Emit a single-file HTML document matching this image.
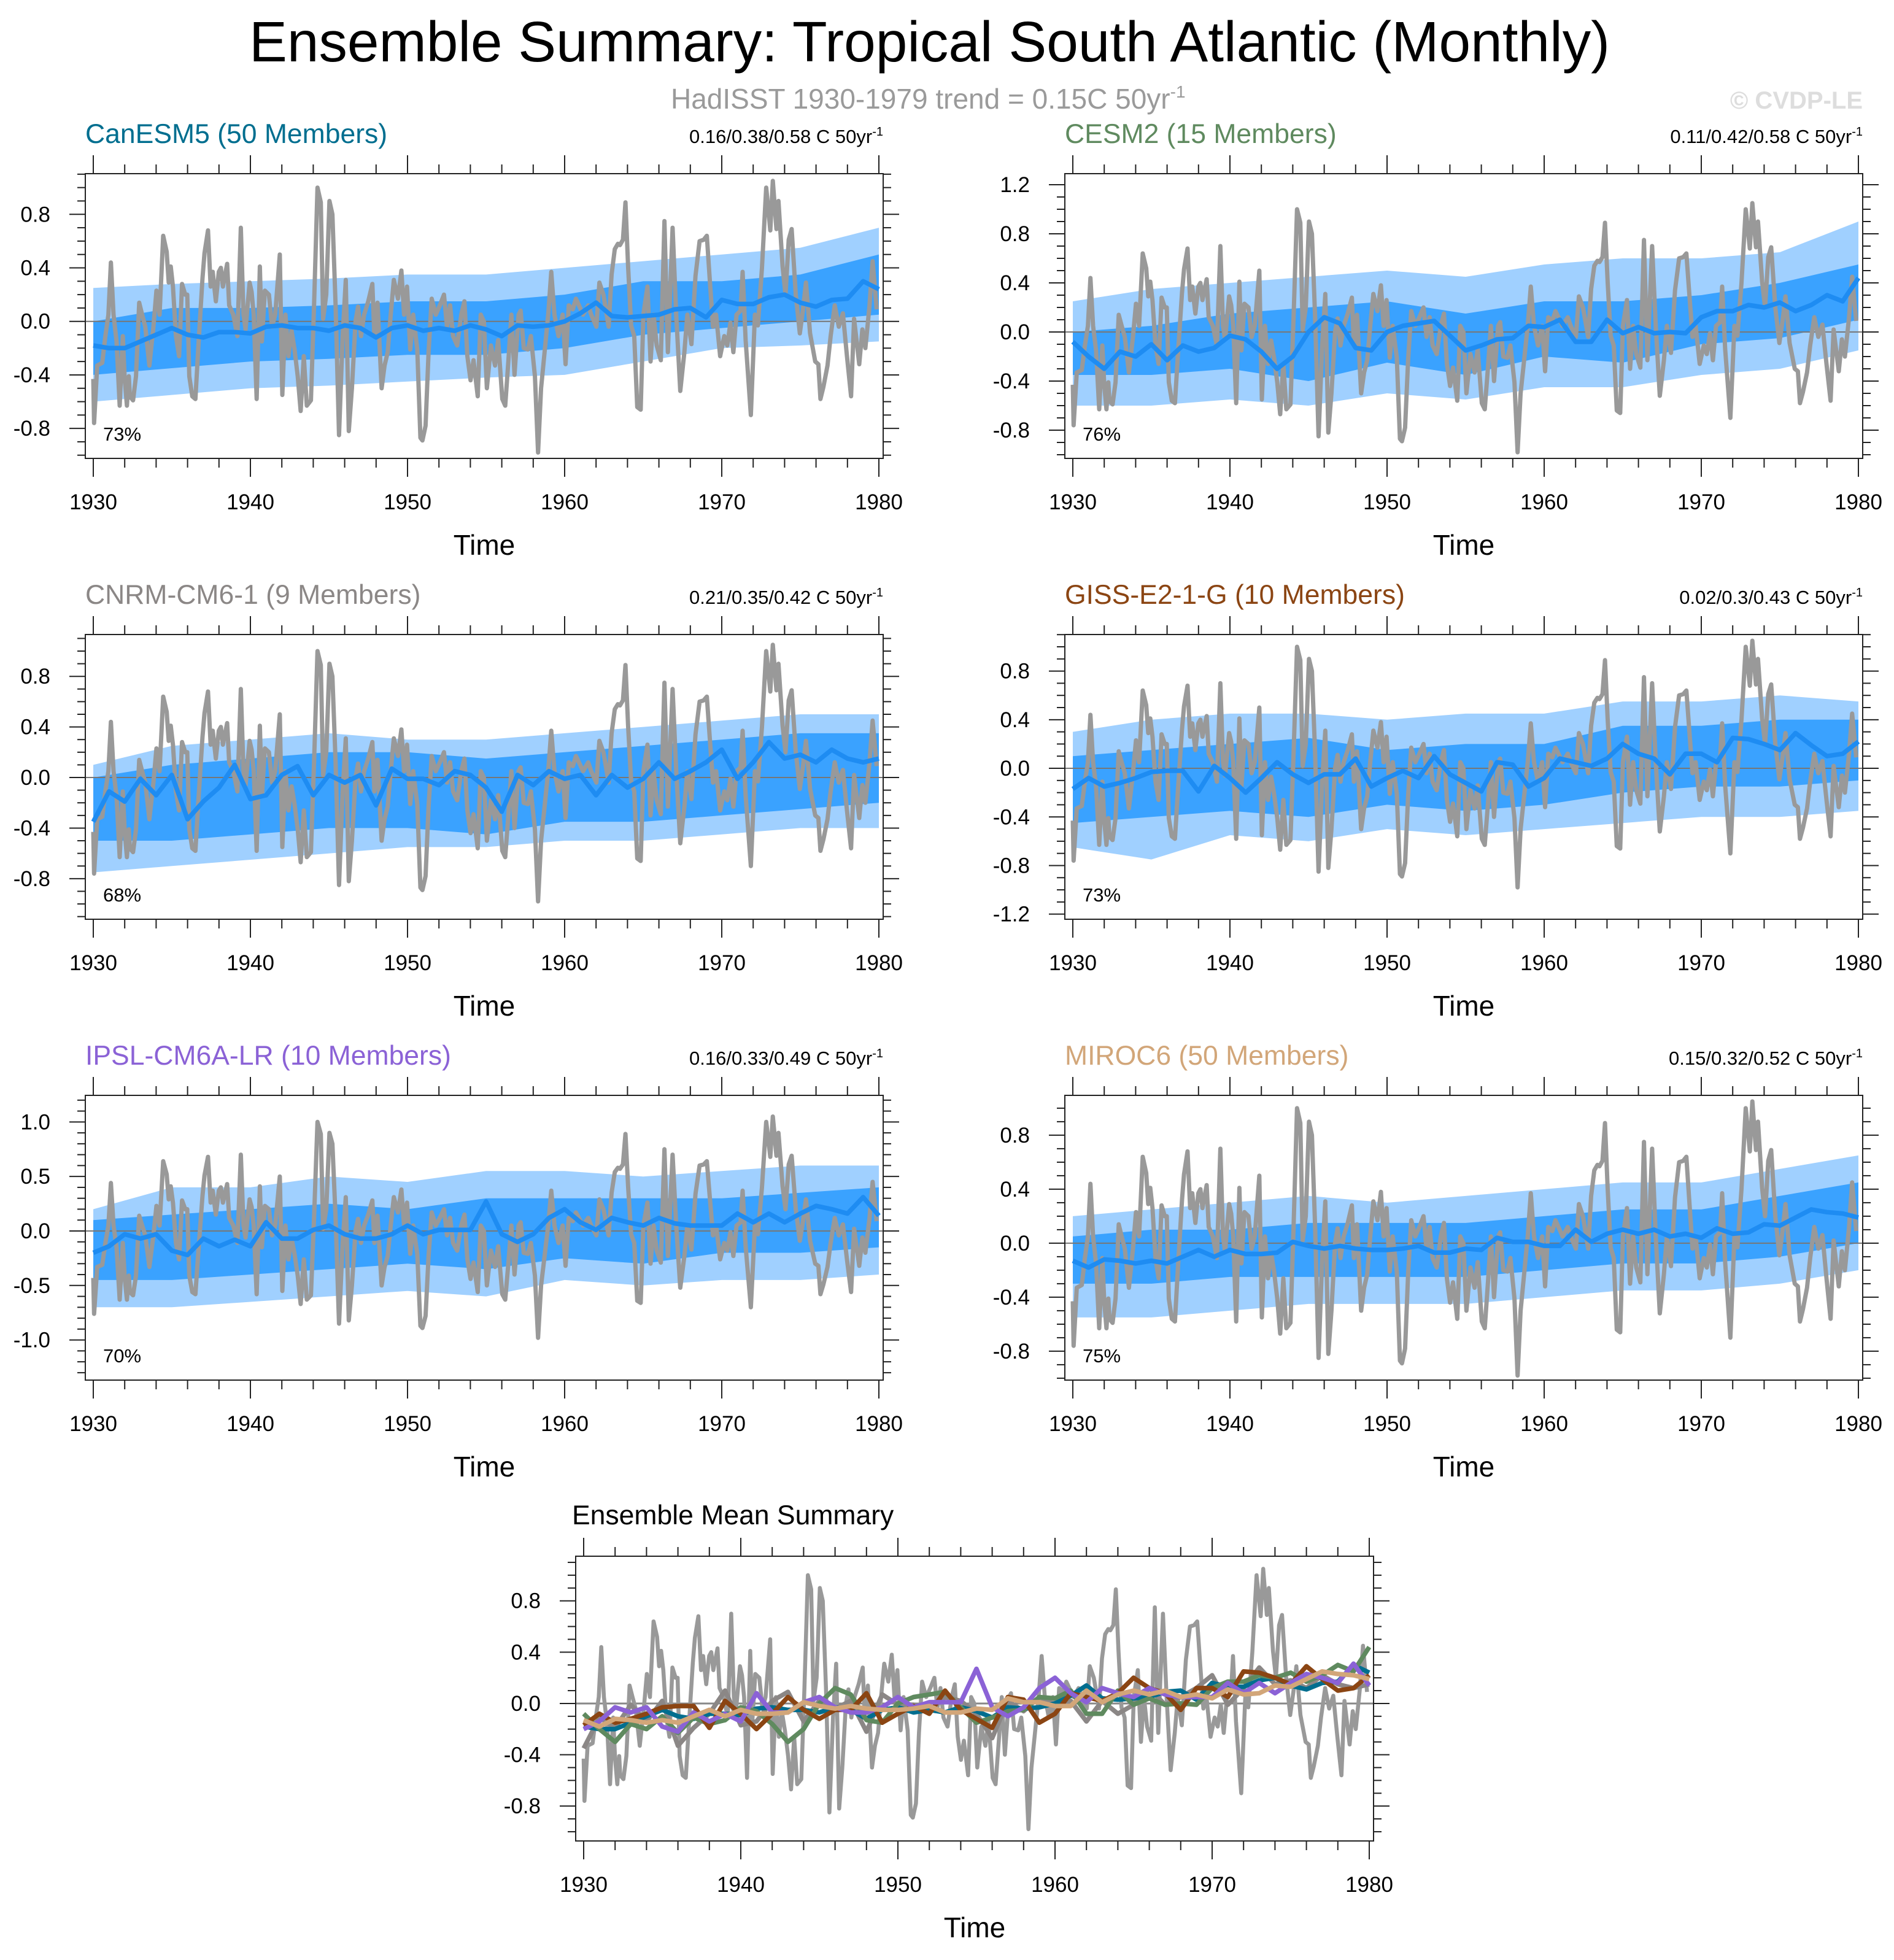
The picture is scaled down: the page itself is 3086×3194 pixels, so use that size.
<!DOCTYPE html>
<html><head><meta charset="utf-8"><title>Ensemble Summary</title>
<style>
html,body{margin:0;padding:0;background:#fff;}
svg{display:block;font-family:"Liberation Sans",Arial,sans-serif;}
</style></head>
<body>
<svg id="chart" width="3086" height="3194" viewBox="0 0 3086 3194" xmlns="http://www.w3.org/2000/svg">
<rect x="0" y="0" width="3086" height="3194" fill="#fff"/>
<text x="406" y="100" font-size="93" textLength="2217" lengthAdjust="spacingAndGlyphs" fill="#000">Ensemble Summary: Tropical South Atlantic (Monthly)</text>
<text x="1093" y="177" font-size="46" fill="#9a9a9a">HadISST 1930-1979 trend = 0.15C 50yr<tspan dy="-18" font-size="28">-1</tspan></text>
<text x="3035" y="177" font-size="40" font-weight="bold" text-anchor="end" fill="#dddddd">© CVDP-LE</text>
<g id="panels"></g>
</svg>
<script>
// ---------------- data ----------------
const years = [];
for (let y = 1930; y <= 1980; y++) years.push(y);
const bandYears = [1930,1935,1940,1945,1950,1955,1960,1965,1970,1975,1980];

const obsYears = [1930.0,1930.05,1930.25,1930.57,1930.77,1930.96,1931.12,1931.29,1931.48,1931.68,1931.88,1932.0,1932.14,1932.26,1932.33,1932.53,1932.72,1932.92,1933.11,1933.31,1933.57,1933.83,1934.02,1934.22,1934.45,1934.67,1934.8,1934.93,1935.07,1935.26,1935.46,1935.65,1935.85,1935.98,1936.11,1936.3,1936.5,1936.69,1936.95,1937.08,1937.3,1937.47,1937.6,1937.8,1937.99,1938.12,1938.25,1938.52,1938.65,1938.91,1939.17,1939.39,1939.56,1939.69,1939.95,1940.08,1940.21,1940.4,1940.6,1940.73,1940.92,1941.18,1941.38,1941.58,1941.87,1942.03,1942.23,1942.42,1942.62,1942.81,1943.01,1943.2,1943.4,1943.59,1943.85,1944.05,1944.27,1944.48,1944.63,1944.83,1945.03,1945.22,1945.42,1945.64,1945.87,1946.07,1946.26,1946.46,1946.69,
1946.85,1947.04,1947.24,1947.5,1947.76,1947.89,1948.09,1948.35,1948.54,1948.74,1948.93,1949.13,1949.39,1949.61,1949.78,1949.97,1950.17,1950.36,1950.62,1950.82,1950.95,1951.15,1951.34,1951.54,1951.8,1952.06,1952.32,1952.51,1952.71,1952.9,1953.16,1953.42,1953.62,1953.81,1954.01,1954.2,1954.47,1954.66,1954.86,1955.05,1955.31,1955.57,1955.77,1956.03,1956.22,1956.42,1956.61,1956.81,1957.07,1957.2,1957.4,1957.66,1957.85,1958.11,1958.31,1958.5,1958.7,1958.96,1959.15,1959.35,1959.61,1959.87,1960.06,1960.26,1960.52,1960.72,1960.91,1961.17,1961.5,1961.69,1962.02,1962.21,1962.47,1962.8,1962.99,1963.19,1963.39,
1963.52,1963.71,1963.87,1964.04,1964.23,1964.43,1964.62,1964.84,1965.01,1965.27,1965.47,1965.66,1965.86,1966.12,1966.35,1966.57,1966.87,1967.1,1967.36,1967.62,1967.81,1968.07,1968.33,1968.59,1968.85,1969.05,1969.24,1969.44,1969.64,1969.9,1970.16,1970.35,1970.55,1970.74,1970.94,1971.2,1971.33,1971.52,1971.85,1972.11,1972.3,1972.56,1972.83,1973.09,1973.25,1973.48,1973.61,1973.87,1974.06,1974.26,1974.45,1974.71,1974.97,1975.17,1975.36,1975.62,1975.95,1976.15,1976.28,1976.47,1976.73,1976.93,1977.19,1977.45,1977.71,1977.97,1978.23,1978.42,1978.75,1978.95,1979.14,1979.4,1979.6,1979.86];
const obsVals = [-0.43,-0.76,-0.33,-0.31,-0.11,0.05,0.44,0.05,-0.15,-0.63,-0.11,-0.43,-0.63,-0.41,-0.56,-0.59,-0.41,0.14,0.05,-0.04,-0.33,-0.04,0.23,0.05,0.64,0.52,0.29,0.41,0.26,-0.11,-0.26,0.28,0.2,0.2,-0.41,-0.56,-0.58,-0.18,0.32,0.51,0.68,0.26,0.37,0.15,0.37,0.4,0.26,0.43,0.12,0.05,-0.11,0.7,0.05,-0.06,0.29,0.22,0.05,-0.58,0.41,-0.15,0.23,0.2,-0.04,0.05,0.5,-0.55,0.05,-0.26,-0.07,-0.21,-0.41,-0.67,-0.26,-0.63,-0.59,0.12,1.0,0.89,0.02,0.2,0.9,0.8,0.12,-0.85,-0.11,0.31,-0.82,-0.5,0.0,
0.11,-0.11,0.05,0.15,0.28,-0.11,0.14,-0.5,-0.33,-0.23,0.05,0.31,0.17,0.38,0.05,0.26,-0.21,0.05,-0.21,-0.87,-0.89,-0.78,-0.23,0.17,0.05,0.12,0.2,-0.04,0.12,-0.11,-0.18,0.05,0.15,-0.26,-0.44,-0.29,-0.56,0.05,0.0,-0.5,-0.18,-0.33,-0.14,-0.58,-0.63,-0.29,0.05,-0.4,0.05,0.08,-0.2,-0.21,-0.11,-0.41,-0.98,-0.5,-0.26,0.06,0.37,0.05,-0.11,0.05,-0.32,0.12,0.09,0.17,0.12,0.05,0.12,0.05,-0.04,0.29,0.2,-0.04,0.35,0.54,0.58,
0.57,0.61,0.89,0.41,-0.03,-0.11,-0.64,-0.66,0.05,0.26,-0.3,0.05,-0.18,-0.29,0.75,-0.23,0.7,0.05,-0.52,-0.23,0.05,-0.17,0.34,0.6,0.61,0.64,0.31,-0.04,0.05,-0.26,-0.11,-0.18,-0.01,-0.23,0.05,0.08,0.37,-0.14,-0.7,0.05,-0.03,0.4,1.0,0.68,1.05,0.69,0.9,0.41,0.2,0.61,0.69,0.2,-0.09,0.09,0.29,-0.09,-0.3,-0.32,-0.58,-0.49,-0.33,-0.11,0.12,-0.04,0.06,-0.26,-0.56,0.02,-0.32,-0.06,-0.2,0.11,0.45,0.09];

// CanESM5
const canMean = [-0.18,-0.2,-0.2,-0.15,-0.1,-0.05,-0.1,-0.12,-0.08,-0.08,-0.09,-0.04,-0.03,-0.05,-0.05,-0.07,-0.03,-0.05,-0.12,-0.05,-0.03,-0.07,-0.05,-0.07,-0.03,-0.06,-0.11,-0.03,-0.04,-0.03,0.0,0.06,0.14,0.04,0.03,0.04,0.05,0.09,0.1,0.03,0.16,0.13,0.13,0.18,0.2,0.14,0.11,0.16,0.17,0.3,0.24];
const canLightTop = [0.25,0.28,0.3,0.32,0.35,0.35,0.4,0.45,0.5,0.55,0.7];
const canLightBot = [-0.6,-0.55,-0.5,-0.48,-0.45,-0.42,-0.4,-0.3,-0.2,-0.18,-0.15];
const canDarkTop = [0.0,0.1,0.1,0.12,0.15,0.15,0.2,0.3,0.3,0.35,0.5];
const canDarkBot = [-0.4,-0.35,-0.3,-0.28,-0.25,-0.25,-0.2,-0.1,-0.05,0.0,0.05];
// CESM2
const cesmMean = [-0.08,-0.2,-0.3,-0.16,-0.2,-0.1,-0.23,-0.11,-0.16,-0.13,-0.03,-0.06,-0.16,-0.3,-0.2,0.0,0.12,0.07,-0.13,-0.15,0.0,0.05,0.07,0.09,-0.03,-0.15,-0.11,-0.06,-0.05,0.05,0.04,0.1,-0.08,-0.08,0.1,-0.01,0.04,-0.01,0.0,-0.01,0.12,0.17,0.17,0.22,0.2,0.24,0.17,0.22,0.3,0.25,0.44];
const cesmLightTop = [0.25,0.35,0.4,0.45,0.5,0.45,0.55,0.6,0.6,0.65,0.9];
const cesmLightBot = [-0.6,-0.6,-0.55,-0.6,-0.5,-0.55,-0.45,-0.45,-0.35,-0.3,-0.15];
const cesmDarkTop = [0.0,0.05,0.15,0.2,0.25,0.15,0.25,0.25,0.3,0.4,0.55];
const cesmDarkBot = [-0.35,-0.35,-0.3,-0.4,-0.25,-0.35,-0.2,-0.25,-0.1,-0.05,0.1];
// CNRM-CM6-1
const cnrmMean = [-0.35,-0.11,-0.19,-0.01,-0.14,0.02,-0.33,-0.19,-0.08,0.1,-0.17,-0.14,0.02,0.09,-0.14,0.02,-0.04,0.02,-0.22,0.07,-0.01,-0.01,-0.06,0.05,0.02,-0.08,-0.27,0.02,-0.06,0.05,-0.01,0.02,-0.14,0.02,-0.08,-0.01,0.12,-0.01,0.05,0.12,0.22,-0.01,0.12,0.28,0.15,0.18,0.12,0.22,0.15,0.12,0.15];
const cnrmLightTop = [0.1,0.25,0.3,0.35,0.3,0.3,0.35,0.4,0.45,0.5,0.5];
const cnrmLightBot = [-0.75,-0.7,-0.65,-0.6,-0.55,-0.55,-0.5,-0.5,-0.45,-0.4,-0.4];
const cnrmDarkTop = [0.0,0.1,0.15,0.2,0.2,0.15,0.2,0.25,0.3,0.35,0.35];
const cnrmDarkBot = [-0.5,-0.5,-0.45,-0.4,-0.4,-0.45,-0.35,-0.35,-0.3,-0.25,-0.2];
// GISS-E2-1-G
const gissMean = [-0.17,-0.08,-0.15,-0.12,-0.08,-0.03,-0.02,-0.02,-0.19,0.02,-0.08,-0.2,-0.08,0.05,-0.05,-0.12,-0.05,-0.05,0.08,-0.15,-0.08,-0.02,-0.08,0.1,-0.05,-0.12,-0.19,0.05,0.03,-0.15,-0.08,0.08,0.05,0.02,0.08,0.2,0.12,0.08,-0.05,0.12,0.12,0.05,0.25,0.24,0.2,0.15,0.29,0.19,0.1,0.12,0.22];
const gissLightTop = [0.3,0.4,0.45,0.45,0.4,0.45,0.45,0.55,0.55,0.6,0.55];
const gissLightBot = [-0.65,-0.75,-0.55,-0.6,-0.5,-0.55,-0.5,-0.45,-0.4,-0.4,-0.35];
const gissDarkTop = [0.1,0.15,0.2,0.25,0.15,0.2,0.2,0.35,0.35,0.4,0.4];
const gissDarkBot = [-0.45,-0.4,-0.35,-0.4,-0.3,-0.35,-0.3,-0.2,-0.15,-0.15,-0.1];
// IPSL-CM6A-LR
const ipslMean = [-0.2,-0.14,-0.03,-0.07,-0.03,-0.18,-0.22,-0.07,-0.14,-0.08,-0.14,0.08,-0.07,-0.07,0.01,0.05,-0.03,-0.07,-0.07,-0.03,0.05,-0.03,0.01,0.01,0.01,0.27,-0.03,-0.1,-0.03,0.12,0.2,0.08,0.01,0.12,0.08,0.05,0.12,0.07,0.05,0.05,0.05,0.16,0.08,0.16,0.08,0.16,0.23,0.2,0.16,0.31,0.14];
const ipslLightTop = [0.2,0.4,0.4,0.5,0.45,0.55,0.55,0.5,0.55,0.6,0.6];
const ipslLightBot = [-0.7,-0.7,-0.65,-0.6,-0.55,-0.6,-0.45,-0.5,-0.45,-0.45,-0.4];
const ipslDarkTop = [0.1,0.15,0.2,0.25,0.2,0.3,0.3,0.3,0.3,0.35,0.4];
const ipslDarkBot = [-0.45,-0.45,-0.4,-0.35,-0.3,-0.35,-0.25,-0.3,-0.2,-0.2,-0.15];
// MIROC6
const mirocMean = [-0.13,-0.18,-0.12,-0.13,-0.15,-0.13,-0.15,-0.1,-0.05,-0.1,-0.05,-0.08,-0.08,-0.07,0.01,-0.02,-0.04,-0.02,-0.04,-0.05,-0.05,-0.04,-0.02,-0.07,-0.07,-0.04,-0.05,0.04,0.01,0.01,-0.02,-0.02,0.1,0.01,0.07,0.1,0.07,0.1,0.05,0.07,0.04,0.11,0.07,0.08,0.14,0.13,0.19,0.25,0.23,0.22,0.19];
const mirocLightTop = [0.2,0.25,0.3,0.35,0.3,0.35,0.4,0.45,0.45,0.55,0.65];
const mirocLightBot = [-0.55,-0.55,-0.5,-0.45,-0.45,-0.45,-0.4,-0.35,-0.35,-0.3,-0.2];
const mirocDarkTop = [0.05,0.1,0.1,0.15,0.15,0.15,0.2,0.25,0.25,0.35,0.45];
const mirocDarkBot = [-0.3,-0.3,-0.25,-0.25,-0.25,-0.25,-0.2,-0.15,-0.15,-0.1,0.0];

const modelNames = ["CanESM5 (50 Members)","CESM2 (15 Members)","CNRM-CM6-1 (9 Members)","GISS-E2-1-G (10 Members)","IPSL-CM6A-LR (10 Members)","MIROC6 (50 Members)"];
const trendLabels = ["0.16/0.38/0.58 C 50yr","0.11/0.42/0.58 C 50yr","0.21/0.35/0.42 C 50yr","0.02/0.3/0.43 C 50yr","0.16/0.33/0.49 C 50yr","0.15/0.32/0.52 C 50yr"];
const pctLabels = ["73%","76%","68%","73%","70%","75%"];
const xTickLabels = ["1930","1940","1950","1960","1970","1980"];

// ---------------- drawing ----------------
const NS = "http://www.w3.org/2000/svg";
const root = document.getElementById("panels");
function mk(tag, attrs, parent) {
  const el = document.createElementNS(NS, tag);
  for (const k in attrs) el.setAttribute(k, attrs[k]);
  (parent || root).appendChild(el);
  return el;
}
const modelColors = ["#006e8f","#5f8a5f","#8b8786","#8b4513","#8b62d6","#d2a679"];

const panels = [
  {x:139, y:283, ymin:-1.024, ymax:1.104, ticks:[-0.8,-0.4,0,0.4,0.8], lbl:["-0.8","-0.4","0.0","0.4","0.8"], mean:canMean, lt:canLightTop, lb:canLightBot, dt:canDarkTop, db:canDarkBot},
  {x:1735, y:283, ymin:-1.03, ymax:1.29, ticks:[-0.8,-0.4,0,0.4,0.8,1.2], lbl:["-0.8","-0.4","0.0","0.4","0.8","1.2"], mean:cesmMean, lt:cesmLightTop, lb:cesmLightBot, dt:cesmDarkTop, db:cesmDarkBot},
  {x:139, y:1034, ymin:-1.121, ymax:1.131, ticks:[-0.8,-0.4,0,0.4,0.8], lbl:["-0.8","-0.4","0.0","0.4","0.8"], mean:cnrmMean, lt:cnrmLightTop, lb:cnrmLightBot, dt:cnrmDarkTop, db:cnrmDarkBot},
  {x:1735, y:1034, ymin:-1.242, ymax:1.101, ticks:[-1.2,-0.8,-0.4,0,0.4,0.8], lbl:["-1.2","-0.8","-0.4","0.0","0.4","0.8"], mean:gissMean, lt:gissLightTop, lb:gissLightBot, dt:gissDarkTop, db:gissDarkBot},
  {x:139, y:1785, ymin:-1.368, ymax:1.244, ticks:[-1,-0.5,0,0.5,1], lbl:["-1.0","-0.5","0.0","0.5","1.0"], mean:ipslMean, lt:ipslLightTop, lb:ipslLightBot, dt:ipslDarkTop, db:ipslDarkBot},
  {x:1735, y:1785, ymin:-1.014, ymax:1.095, ticks:[-0.8,-0.4,0,0.4,0.8], lbl:["-0.8","-0.4","0.0","0.4","0.8"], mean:mirocMean, lt:mirocLightTop, lb:mirocLightBot, dt:mirocDarkTop, db:mirocDarkBot}
];
const W = 1300, H = 464;

function axes(p, idx, tag) {
  const sx = yr => p.x + 13 + (yr - 1930) * 25.6;
  const sy = v => p.y + (p.ymax - v) / (p.ymax - p.ymin) * H;
  const g = mk("g", {});
  
  
  const cid = "clip" + tag;
  const cp = mk("clipPath", {id: cid}, g);
  mk("rect", {x:p.x, y:p.y, width:W, height:H}, cp);
  const plot = mk("g", {"clip-path":"url(#" + cid + ")"}, g);
  for (let yr = 1930; yr <= 1980; yr += 2) {
    const major = (yr % 10 === 0);
    const L = major ? 30 : 15;
    const X = sx(yr);
    const t1 = mk("line", {x1:X, x2:X, y1:p.y + H, y2:p.y + H + L, stroke:"#222", "stroke-width":2}, g);
    
    
    const t2 = mk("line", {x1:X, x2:X, y1:p.y, y2:p.y - L, stroke:"#222", "stroke-width":2}, g);
    
    
  }
  xTickLabels.forEach((s, i) => {
    const t = mk("text", {x:sx(1930 + i * 10), y:p.y + H + 83, "font-size":35, "text-anchor":"middle", fill:"#000"}, g);
    t.textContent = s;
    
    
  });
  const start = Math.ceil(p.ymin * 10), end = Math.floor(p.ymax * 10);
  for (let k = start; k <= end; k++) {
    const v = k / 10;
    const major = p.ticks.some(t => Math.abs(t - v) < 1e-6);
    const L = major ? 26 : 13;
    const Y = sy(v);
    const a = mk("line", {x1:p.x - L, x2:p.x, y1:Y, y2:Y, stroke:"#222", "stroke-width":2}, g);
    
    
    const b = mk("line", {x1:p.x + W, x2:p.x + W + L, y1:Y, y2:Y, stroke:"#222", "stroke-width":2}, g);
    
    
  }
  p.ticks.forEach((v, i) => {
    const t = mk("text", {x:p.x - 57, y:sy(v) + 12, "font-size":35, "text-anchor":"end", fill:"#000"}, g);
    t.textContent = p.lbl[i];
    
    
  });
  const tt = mk("text", {x:p.x + W / 2, y:p.y + H + 157, "font-size":46, "text-anchor":"middle", fill:"#000"}, g);
  tt.textContent = "Time";
  
  
  return {g, plot, sx, sy};
}

function linePath(xs, vs, sx, sy) {
  return xs.map((x, i) => (i ? "L" : "M") + sx(x).toFixed(1) + "," + sy(vs[i]).toFixed(1)).join("");
}
function bandPath(top, bot, sx, sy) {
  let d = bandYears.map((x, i) => (i ? "L" : "M") + sx(x).toFixed(1) + "," + sy(top[i]).toFixed(1)).join("");
  for (let i = bandYears.length - 1; i >= 0; i--) d += "L" + sx(bandYears[i]).toFixed(1) + "," + sy(bot[i]).toFixed(1);
  return d + "Z";
}

panels.forEach((p, idx) => {
  const tag = "model" + (idx + 1);
  const {g, plot, sx, sy} = axes(p, idx, tag);
  const lb = mk("path", {d:bandPath(p.lt, p.lb, sx, sy), fill:"#a0d0ff"}, plot);
  
  
  const db = mk("path", {d:bandPath(p.dt, p.db, sx, sy), fill:"#3aa2ff"}, plot);
  
  
  const z = mk("line", {x1:p.x, x2:p.x + W, y1:sy(0), y2:sy(0), stroke:"#777", "stroke-width":2}, plot);
  
  
  const ob = mk("path", {d:linePath(obsYears, obsVals, sx, sy), fill:"none", stroke:"#999", "stroke-width":7, "stroke-linejoin":"round"}, plot);
  
  
  const mn = mk("path", {d:linePath(years, p.mean, sx, sy), fill:"none", stroke:"#1e8cf2", "stroke-width":7.5, "stroke-linejoin":"round"}, plot);
  
  
  const fr = mk("rect", {x:p.x, y:p.y, width:W, height:H, fill:"none", stroke:"#222", "stroke-width":2}, g);
  
  
  const ti = mk("text", {x:p.x, y:p.y - 50, "font-size":44.5, fill:modelColors[idx]}, g);
  ti.textContent = modelNames[idx];
  
  
  const tr = mk("text", {x:p.x + W, y:p.y - 50, "font-size":31, "text-anchor":"end", fill:"#000"}, g);
  tr.textContent = trendLabels[idx];
  const sup = mk("tspan", {dy:-12, "font-size":20}, tr);
  sup.textContent = "-1";
  
  
  const pc = mk("text", {x:p.x + 29, y:p.y + 435, "font-size":31, fill:"#000"}, g);
  pc.textContent = pctLabels[idx];
  
  
});

// bottom summary panel
const bp = {x:938, y:2536, ymin:-1.072, ymax:1.148, ticks:[-0.8,-0.4,0,0.4,0.8], lbl:["-0.8","-0.4","0.0","0.4","0.8"]};
(function () {
  const {g, plot, sx, sy} = axes(bp, 6, "summary");
  const z = mk("line", {x1:bp.x, x2:bp.x + W, y1:sy(0), y2:sy(0), stroke:"#888", "stroke-width":3}, plot);
  
  
  const ob = mk("path", {d:linePath(obsYears, obsVals, sx, sy), fill:"none", stroke:"#999", "stroke-width":6.5, "stroke-linejoin":"round"}, plot);
  
  
  const order = [2, 0, 1, 3, 4, 5];
  const means = [canMean, cesmMean, cnrmMean, gissMean, ipslMean, mirocMean];
  order.forEach(i => {
    const l = mk("path", {d:linePath(years, means[i], sx, sy), fill:"none", stroke:modelColors[i], "stroke-width":7.5, "stroke-linejoin":"round"}, plot);
    
    
  });
  const fr = mk("rect", {x:bp.x, y:bp.y, width:W, height:H, fill:"none", stroke:"#222", "stroke-width":2}, g);
  
  
  const ti = mk("text", {x:bp.x - 6, y:bp.y - 52, "font-size":44.5, fill:"#000"}, g);
  ti.textContent = "Ensemble Mean Summary";
  
  
})();
</script>
</body></html>
